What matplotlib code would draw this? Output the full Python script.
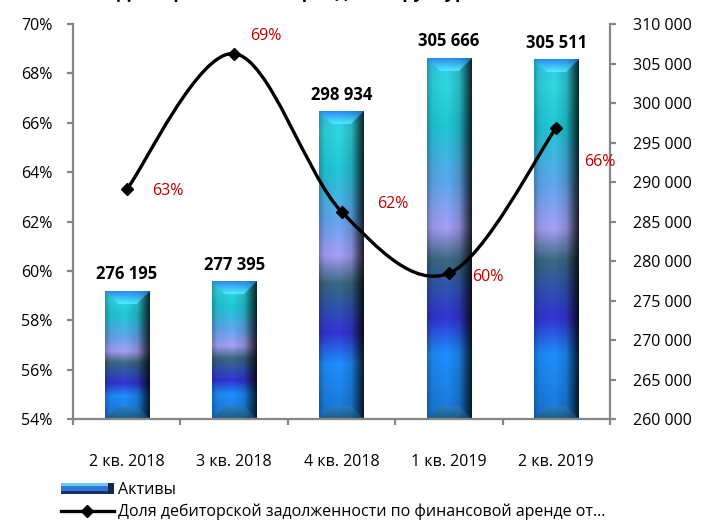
import numpy as np
import matplotlib
matplotlib.use('Agg')
import matplotlib.pyplot as plt
from matplotlib.path import Path
from matplotlib.patches import PathPatch, Rectangle
from matplotlib.lines import Line2D
from matplotlib.legend_handler import HandlerBase
from matplotlib.colors import to_rgb

# ---------------- data ----------------
categories = ['2 кв. 2018', '3 кв. 2018', '4 кв. 2018', '1 кв. 2019', '2 кв. 2019']
assets = [276195, 277395, 298934, 305666, 305511]
share = [63.3, 68.8, 62.4, 59.9, 65.8]
share_labels = ['63%', '69%', '62%', '60%', '66%']
left_ticks = [54, 56, 58, 60, 62, 64, 66, 68, 70]
right_ticks = [260000, 265000, 270000, 275000, 280000, 285000, 290000,
               295000, 300000, 305000, 310000]
series_names = ['Активы',
                'Доля дебиторской задолженности по финансовой аренде от...']
title_text = 'Доля финансовой аренды в структуре активов, %'

# ---------------- style ----------------
plt.rcParams['font.family'] = ['Open Sans', 'DejaVu Sans']
FS = 11.5
GRAY = '#868686'
RED = '#C00000'

W_IN, H_IN, DPI = 7.03, 5.2, 100
fig = plt.figure(figsize=(W_IN, H_IN), dpi=DPI)
L, R, B, T = 73, 610, 419, 24  # pixel frame of plot area
ax = fig.add_axes([L / 703, 1 - B / 520, (R - L) / 703, (B - T) / 520])
ax2 = ax.twinx()

x = np.arange(len(categories))
bar_w = 0.41

# bars on the right axis (primary axes), line on the left axis (twin)
ax.set_xlim(-0.5, len(categories) - 0.5)
ax.set_ylim(right_ticks[0], right_ticks[-1])
ax2.set_ylim(left_ticks[0], left_ticks[-1])
ax.set_autoscale_on(False)

bars = ax.bar(x, assets, width=bar_w, color='none', edgecolor='none', zorder=2)

# gradient colour stops (fraction from bottom)
stops = [(0.00, '#1A78D8'), (0.18, '#1E90FF'), (0.28, '#3434D6'),
         (0.35, '#3050B8'), (0.44, '#3A6A80'), (0.53, '#A8A0F8'),
         (0.65, '#60A8F0'), (0.81, '#20C8D8'), (0.93, '#30D8E0'),
         (1.00, '#30C8F0')]
sf = np.array([s[0] for s in stops])
sc = np.array([to_rgb(s[1]) for s in stops])
hx = np.array([0.0, 0.12, 0.45, 0.72, 0.88, 1.0])
hm = np.array([0.72, 0.92, 1.0, 0.85, 0.45, 0.18])

px_per_unit_x = (R - L) / len(categories)
px_per_unit_y = (B - T) / (right_ticks[-1] - right_ticks[0])
SS = 4
bev = 13 * SS

for rect, v in zip(bars.patches, assets):
    x0 = rect.get_x()
    x1 = x0 + rect.get_width()
    y0 = right_ticks[0]
    y1 = v
    Wp = max(int(rect.get_width() * px_per_unit_x * SS), 4)
    Hp = max(int((y1 - y0) * px_per_unit_y * SS), 4)
    rows = np.arange(Hp)[:, None]
    cols = np.arange(Wp)[None, :]
    fr = 1 - (rows + 0.5) / Hp  # fraction from bottom
    base = np.stack([np.interp(fr[:, 0], sf, sc[:, k]) for k in range(3)], axis=-1)
    img = np.repeat(base[:, None, :], Wp, axis=1)
    hfac = np.interp((cols[0] + 0.5) / Wp, hx, hm)
    img = img * hfac[None, :, None]
    dt = rows * np.ones_like(cols)
    db = (Hp - 1 - rows) * np.ones_like(cols)
    dl = cols * np.ones_like(rows)
    dr = (Wp - 1 - cols) * np.ones_like(rows)
    top = (dt < bev) & (dt <= dl) & (dt <= dr)
    bot = (db < bev) & (db <= dl) & (db <= dr)
    hf2 = np.interp((cols + 0.5) / Wp * np.ones_like(rows), hx, hm)
    t = dt / bev
    topcol = (1 - t)[..., None] * np.array(to_rgb('#2A8CF0')) + t[..., None] * np.array(to_rgb('#50F0FF'))
    topcol = topcol * (0.7 + 0.3 * hf2)[..., None]
    img[top] = topcol[top]
    tb = db / bev
    botcol = (1 - tb)[..., None] * np.array(to_rgb('#1B5F8C')) + tb[..., None] * np.array(to_rgb('#2A80C8'))
    botcol = botcol * (0.5 + 0.5 * hf2)[..., None]
    img[bot] = botcol[bot]
    img = np.clip(img, 0, 1)
    ax.imshow(img, extent=(x0, x1, y0, y1), origin='upper', aspect='auto',
              interpolation='antialiased', zorder=2)
    ax.annotate(f'{v:,}'.replace(',', ' '), (x0 + rect.get_width() / 2, v),
                xytext=(0, 8.5), textcoords='offset points', ha='center',
                va='baseline', fontsize=12, fontweight='bold', color='black')

ax.set_xlim(-0.5, len(categories) - 0.5)
ax.set_ylim(right_ticks[0], right_ticks[-1])

# smoothed line (Catmull-Rom as cubic Bezier)
P = np.column_stack([x, share]).astype(float)
verts = [tuple(P[0])]
codes = [Path.MOVETO]
n = len(P)
for i in range(n - 1):
    p0 = P[i - 1] if i > 0 else P[i]
    p1 = P[i]
    p2 = P[i + 1]
    p3 = P[i + 2] if i + 2 < n else P[i + 1]
    c1 = p1 + (p2 - p0) / 6
    c2 = p2 - (p3 - p1) / 6
    verts += [tuple(c1), tuple(c2), tuple(p2)]
    codes += [Path.CURVE4] * 3
ax2.add_patch(PathPatch(Path(verts, codes), facecolor='none', edgecolor='black',
                        lw=2.4, zorder=3, capstyle='round'))
ax2.plot(x, share, linestyle='none', marker='D', color='black', markersize=6.5,
         zorder=4)

label_offsets = [(29.5, -1.4), (23, 13), (37, 5.8), (28, -2.9), (31, -25)]
for xi, yi, lab, off in zip(x, share, share_labels, label_offsets):
    ax2.annotate(lab, (xi, yi), xytext=off, textcoords='offset points',
                 ha='center', va='center', color=RED, fontsize=FS)

# ---------------- axes styling ----------------
for a in (ax, ax2):
    for s in a.spines.values():
        s.set_visible(False)
ax.spines['bottom'].set_visible(True)
ax.spines['right'].set_visible(True)
ax2.spines['left'].set_visible(True)
for s in (ax.spines['bottom'], ax.spines['right'], ax2.spines['left']):
    s.set_color(GRAY)
    s.set_linewidth(1.6)

ax.yaxis.tick_right()
ax2.yaxis.tick_left()
ax.set_yticks(right_ticks)
ax.set_yticklabels([f'{v:,}'.replace(',', ' ') for v in right_ticks])
ax2.set_yticks(left_ticks)
ax2.set_yticklabels([f'{v}%' for v in left_ticks])
ax.tick_params(axis='y', direction='out', length=4, width=1.6, color=GRAY,
               pad=12.5, labelsize=FS)
ax2.tick_params(axis='y', direction='out', length=4, width=1.6, color=GRAY,
                pad=10.5, labelsize=FS)
ax.set_xticks(x)
ax.set_xticklabels(categories)
ax.set_xticks(np.arange(-0.5, len(categories), 1.0), minor=True)
ax.tick_params(axis='x', which='major', length=0, pad=25, labelsize=FS)
ax.tick_params(axis='x', which='minor', direction='out', length=4, width=1.6,
               color=GRAY)
ax.patch.set_visible(False)

# ---------------- legend ----------------
class GradHandler(HandlerBase):
    def create_artists(self, legend, orig_handle, xdescent, ydescent, width,
                       height, fontsize, trans):
        h = height * 0.95
        y0 = -ydescent + (height - h) / 2
        parts = [(0.00, 0.30, '#1C2E6E'), (0.30, 0.75, '#2F78D8'),
                 (0.75, 1.00, '#6EC8F0')]
        arts = []
        for a0, a1, c in parts:
            arts.append(Rectangle((-xdescent, y0 + a0 * h), width, (a1 - a0) * h,
                                  facecolor=c, edgecolor='none', transform=trans))
        arts.append(Rectangle((-xdescent + width * 0.9, y0), width * 0.1, h,
                              facecolor='#14284A', edgecolor='none', transform=trans))
        return arts

bar_handle = Rectangle((0, 0), 1, 1)
line_handle = Line2D([], [], color='black', lw=2.4, marker='D', markersize=6.5)
fig.legend([bar_handle, line_handle], series_names,
           handler_map={Rectangle: GradHandler()},
           loc='upper left', bbox_to_anchor=(61 / 703, 1 - 482 / 520),
           frameon=False, fontsize=FS, handlelength=3.3, handletextpad=0.3,
           labelspacing=0.35, borderpad=0, borderaxespad=0)

# title (cut off at the top edge, as in the reference)
fig.text(0.5, 1 + 2.5 / 520, title_text, ha='center', va='baseline',
         fontsize=13, fontweight='bold')

fig.savefig('out.png', dpi=DPI)
